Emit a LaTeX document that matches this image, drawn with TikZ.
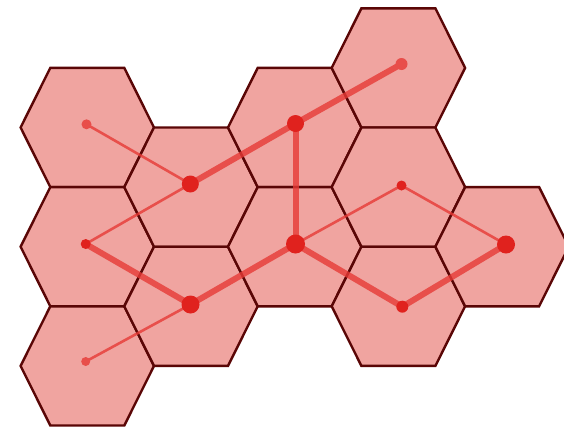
\documentclass[tikz,border=0pt]{standalone}
\usetikzlibrary{calc}
\definecolor{hexfill}{HTML}{F0A4A0}
\definecolor{hexline}{HTML}{5A0606}
\definecolor{edgered}{HTML}{E63A36}
\definecolor{dotred}{HTML}{E0221E}
\tikzset{
  hexcell/.style={fill=hexfill, draw=hexline, line width=2.4pt, line join=miter},
  thinedge/.style={draw=edgered, opacity=0.8, line width=2.6pt},
  thickedge/.style={draw=edgered, opacity=0.8, line width=6pt},
  dot/.style={circle, fill=dotred, inner sep=0pt, minimum size=#1},
  dot/.default=10pt
}
\newcommand{\hexat}[2]{%
  \draw[hexcell] ($(#1,#2)+(-66.7,0)$) -- ++(29.7,-59.6) -- ++(74,0) -- ++(29.7,59.6)
    -- ++(-29.7,59.6) -- ++(-74,0) -- cycle;}
\begin{document}
\begin{tikzpicture}[x=1pt,y=-1pt]
\useasboundingbox (0,0) rectangle (564,426);
\begin{scope}
\clip (0,0) rectangle (564,426);
% column 0
\hexat{87.3}{127.5}
\hexat{87.3}{246.7}
\hexat{87.3}{365.9}
% column 1
\hexat{191}{187.1}
\hexat{191}{306.3}
% column 2
\hexat{294.7}{127.5}
\hexat{294.7}{246.7}
% column 3
\hexat{398.4}{67.9}
\hexat{398.4}{187.1}
\hexat{398.4}{306.3}
% column 4
\hexat{502.1}{246.7}
\end{scope}
% node positions
\coordinate (a) at (86.5,124.3);
\coordinate (b) at (85.7,244);
\coordinate (c) at (85.7,361.5);
\coordinate (d) at (190.3,184);
\coordinate (e) at (190.5,304.5);
\coordinate (f) at (295.5,123.5);
\coordinate (g) at (295.5,244);
\coordinate (h) at (401.5,64);
\coordinate (i) at (401.5,185.5);
\coordinate (j) at (402.3,306.7);
\coordinate (k) at (506,244.5);
% thin edges
\draw[thinedge] (a) -- (d);
\draw[thinedge] (d) -- (b);
\draw[thinedge] (c) -- (e);
\draw[thinedge] (g) -- (i);
\draw[thinedge] (i) -- (k);
% thick edges
\draw[thickedge] (d) -- (f);
\draw[thickedge] (f) -- (h);
\draw[thickedge] (f) -- (g);
\draw[thickedge] (b) -- (e);
\draw[thickedge] (e) -- (g);
\draw[thickedge] (g) -- (j);
\draw[thickedge] (j) -- (k);
% dots
\node[dot=10pt, fill=edgered!90] (na) at (a) {};
\node[dot=10pt] (nb) at (b) {};
\node[dot=9pt, fill=edgered!90] (nc) at (c) {};
\node[dot=17pt] (nd) at (d) {};
\node[dot=18pt] (ne) at (e) {};
\node[dot=17pt] (nf) at (f) {};
\node[dot=19pt] (ng) at (g) {};
\node[dot=12pt, fill=edgered!90] (nh) at (h) {};
\node[dot=10pt] (ni) at (i) {};
\node[dot=12pt] (nj) at (j) {};
\node[dot=18pt] (nk) at (k) {};
\end{tikzpicture}
\end{document}
